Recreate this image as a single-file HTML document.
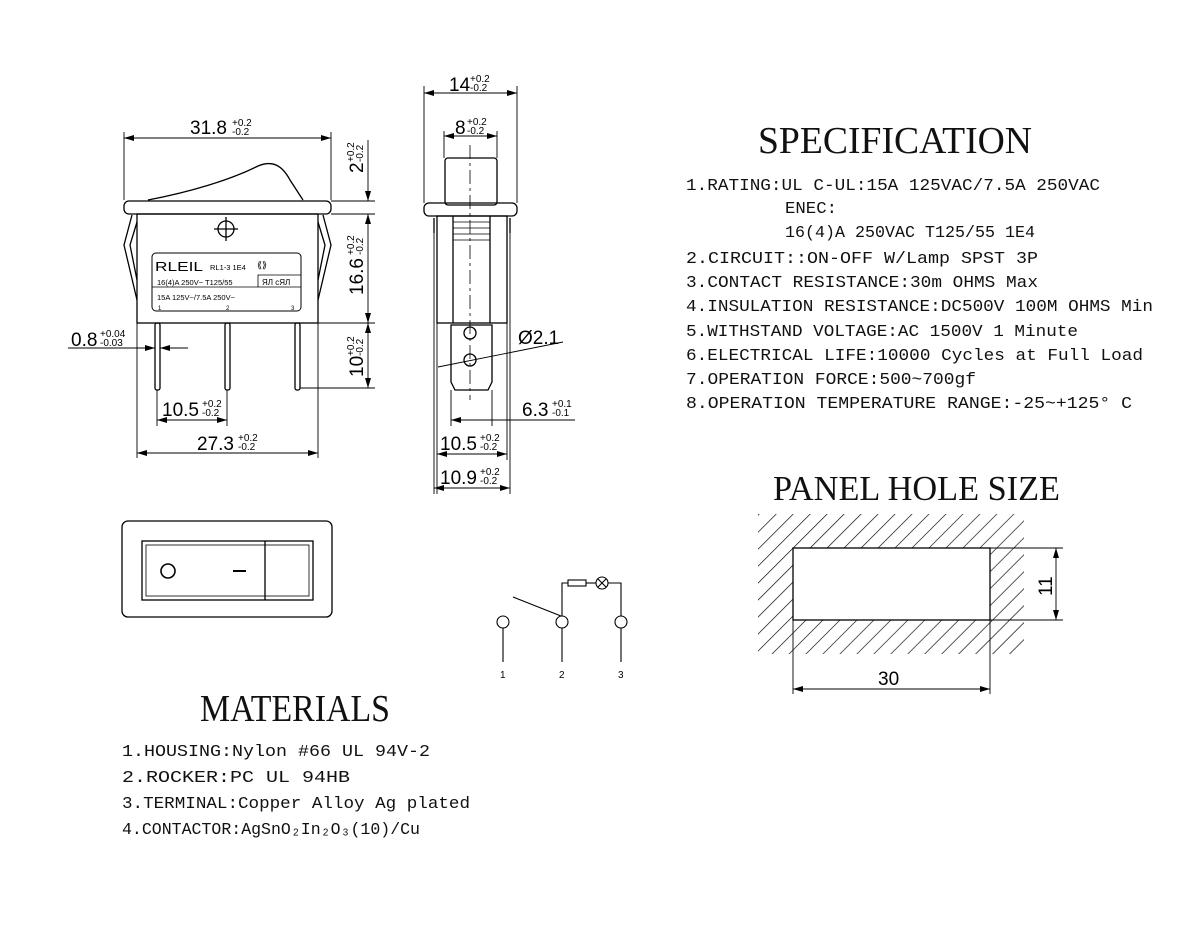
<!DOCTYPE html>
<html><head><meta charset="utf-8"><style>
html,body{margin:0;padding:0;background:#fff;}
svg{display:block;}
.d{font-family:"Liberation Sans",sans-serif;fill:#000;}
.m{font-family:"Liberation Mono",monospace;font-size:17px;fill:#111;}
.h{font-family:"Liberation Serif",serif;fill:#111;}
</style></head><body>
<svg width="1200" height="942" viewBox="0 0 1200 942" xmlns="http://www.w3.org/2000/svg">
<defs>
<marker id="a" viewBox="0 0 10 6" refX="10" refY="3" markerWidth="10" markerHeight="6" orient="auto-start-reverse" markerUnits="userSpaceOnUse"><path d="M0,0 L10,3 L0,6 z" fill="#000"/></marker>
<pattern id="hat" width="12" height="12" patternUnits="userSpaceOnUse" patternTransform="rotate(45)"><line x1="0" y1="0" x2="0" y2="12" stroke="#000" stroke-width="1.3"/></pattern>
</defs>
<g fill="none" stroke="#000" stroke-width="1.3">
<!-- FRONT VIEW -->
<path d="M148,200 C190,192 230,180 258,166 C272,160 282,165 290,180 L303,200"/>
<rect x="124" y="201" width="207" height="13" rx="5"/>
<rect x="137" y="214" width="181" height="109"/>
<path d="M132,215 L124,245 L137,300 M137,222 L130,245 L137,280"/>
<path d="M323,215 L331,245 L318,300 M318,222 L325,245 L318,280"/>
<circle cx="226" cy="229" r="8"/>
<line x1="214" y1="229" x2="238" y2="229"/><line x1="226" y1="217" x2="226" y2="241"/>
<rect x="152" y="253" width="149" height="58" rx="4" stroke-width="1"/>
<path d="M152,287 L301,287 M258,275 L301,275 L258,275 L258,287" stroke-width="0.8"/>
<rect x="155" y="323" width="5" height="67" rx="2"/>
<rect x="225" y="323" width="5" height="67" rx="2"/>
<rect x="295" y="323" width="5" height="67" rx="2"/>
<!-- dims front -->
<g stroke-width="0.9">
<line x1="124" y1="200" x2="124" y2="132"/><line x1="331" y1="200" x2="331" y2="132"/>
<line x1="124" y1="138" x2="331" y2="138" marker-start="url(#a)" marker-end="url(#a)"/>
<line x1="331" y1="201" x2="375" y2="201"/><line x1="331" y1="214" x2="375" y2="214"/>
<line x1="318" y1="323" x2="375" y2="323"/><line x1="300" y1="388" x2="375" y2="388"/>
<line x1="368" y1="140" x2="368" y2="201" marker-end="url(#a)"/>
<line x1="368" y1="214" x2="368" y2="323" marker-start="url(#a)" marker-end="url(#a)"/>
<line x1="368" y1="323" x2="368" y2="388" marker-start="url(#a)" marker-end="url(#a)"/>
<line x1="68" y1="348" x2="155" y2="348" marker-end="url(#a)"/>
<line x1="160" y1="348" x2="188" y2="348" marker-start="url(#a)"/>
<line x1="157" y1="390" x2="157" y2="426"/><line x1="227" y1="390" x2="227" y2="426"/>
<line x1="157" y1="420" x2="227" y2="420" marker-start="url(#a)" marker-end="url(#a)"/>
<line x1="137" y1="323" x2="137" y2="458"/><line x1="318" y1="323" x2="318" y2="458"/>
<line x1="137" y1="453" x2="318" y2="453" marker-start="url(#a)" marker-end="url(#a)"/>
</g>
<!-- SIDE VIEW -->
<rect x="445" y="158" width="52" height="47" rx="3"/>
<rect x="424" y="203" width="93" height="13" rx="5"/>
<rect x="437" y="216" width="70" height="107"/>
<line x1="453" y1="216" x2="453" y2="323"/><line x1="490" y1="216" x2="490" y2="323"/>
<path d="M453,222 H490 M453,228 H490 M453,234 H490 M453,240 H490" stroke-width="0.8"/>
<line x1="434" y1="218" x2="434" y2="233"/><line x1="510" y1="218" x2="510" y2="233"/>
<path d="M451,325 L451,382 L455,390 L488,390 L492,382 L492,325 Z"/>
<circle cx="470" cy="333" r="6"/><circle cx="470" cy="360" r="6"/>
<line x1="470" y1="145" x2="470" y2="400" stroke-width="0.8" stroke-dasharray="14,4,3,4"/>
<g stroke-width="0.9">
<line x1="424" y1="203" x2="424" y2="86"/><line x1="517" y1="203" x2="517" y2="86"/>
<line x1="424" y1="93" x2="517" y2="93" marker-start="url(#a)" marker-end="url(#a)"/>
<line x1="444" y1="158" x2="444" y2="131"/><line x1="497" y1="158" x2="497" y2="131"/>
<line x1="444" y1="136" x2="497" y2="136" marker-start="url(#a)" marker-end="url(#a)"/>
<line x1="438" y1="367" x2="563" y2="342"/>
<line x1="451" y1="390" x2="451" y2="426"/><line x1="492" y1="390" x2="492" y2="426"/>
<line x1="451" y1="420" x2="492" y2="420" marker-start="url(#a)"/>
<line x1="492" y1="420" x2="575" y2="420"/>
<line x1="437" y1="323" x2="437" y2="494"/><line x1="507" y1="323" x2="507" y2="460"/>
<line x1="434" y1="233" x2="434" y2="494"/><line x1="510" y1="233" x2="510" y2="494"/>
<line x1="437" y1="454" x2="507" y2="454" marker-start="url(#a)" marker-end="url(#a)"/>
<line x1="434" y1="488" x2="510" y2="488" marker-start="url(#a)" marker-end="url(#a)"/>
</g>
<!-- TOP VIEW -->
<rect x="122" y="521" width="210" height="96" rx="6"/>
<rect x="142" y="541" width="171" height="59"/>
<rect x="146" y="545" width="163" height="51" stroke-width="0.8"/>
<line x1="265" y1="541" x2="265" y2="600"/>
<circle cx="168" cy="571" r="7" stroke-width="1.6"/>
<line x1="233" y1="571" x2="246" y2="571" stroke-width="2"/>
<!-- SCHEMATIC -->
<g stroke-width="1.1">
<circle cx="503" cy="622" r="6"/><circle cx="562" cy="622" r="6"/><circle cx="621" cy="622" r="6"/>
<line x1="503" y1="628" x2="503" y2="662"/><line x1="562" y1="628" x2="562" y2="662"/><line x1="621" y1="628" x2="621" y2="662"/>
<line x1="513" y1="597" x2="561" y2="616"/>
<path d="M562,616 L562,583 L568,583"/>
<rect x="568" y="580" width="18" height="6"/>
<path d="M586,583 L596,583"/>
<circle cx="602" cy="583" r="6"/>
<path d="M598,579 L606,587 M606,579 L598,587"/>
<path d="M608,583 L621,583 L621,616"/>
</g>
<!-- PANEL -->
<path d="M758,514 H1024 V654 H758 Z M793,548 V620 H990 V548 Z" fill="url(#hat)" fill-rule="evenodd" stroke="none"/>
<rect x="793" y="548" width="197" height="72" fill="#fff"/>
<g stroke-width="0.9">
<line x1="990" y1="548" x2="1063" y2="548"/><line x1="990" y1="620" x2="1063" y2="620"/>
<line x1="1056" y1="548" x2="1056" y2="620" marker-start="url(#a)" marker-end="url(#a)"/>
<line x1="793" y1="620" x2="793" y2="694"/><line x1="990" y1="620" x2="990" y2="694"/>
<line x1="793" y1="689" x2="990" y2="689" marker-start="url(#a)" marker-end="url(#a)"/>
</g>
</g>
<!-- label text on front -->
<text class="d" x="155" y="271" font-size="13" textLength="48" lengthAdjust="spacingAndGlyphs" fill="#333">RLEIL</text>
<text class="d" x="210" y="270" font-size="7.5">RL1-3 1E4</text>
<text class="d" x="257" y="268" font-size="9">⟪⟫</text>
<text class="d" x="157" y="285" font-size="7.5">16(4)A 250V~ T125/55</text>
<text class="d" x="262" y="285" font-size="8">ЯЛ cЯЛ</text>
<text class="d" x="157" y="300" font-size="7.5">15A 125V~/7.5A 250V~</text>
<text class="d" x="158" y="310" font-size="6">1</text><text class="d" x="226" y="310" font-size="6">2</text><text class="d" x="291" y="310" font-size="6">3</text>
<!-- dim text -->
<g class="d">
<text x="190" y="134" font-size="19">31.8</text><text x="232" y="126" font-size="10">+0.2</text><text x="232" y="135" font-size="10">-0.2</text>
<g transform="translate(363,173) rotate(-90)"><text x="0" y="0" font-size="19">2</text><text x="11" y="-9" font-size="10">+0.2</text><text x="11" y="0" font-size="10">-0.2</text></g>
<g transform="translate(363,295) rotate(-90)"><text x="0" y="0" font-size="19">16.6</text><text x="40" y="-9" font-size="10">+0.2</text><text x="40" y="0" font-size="10">-0.2</text></g>
<g transform="translate(363,377) rotate(-90)"><text x="0" y="0" font-size="19">10</text><text x="21" y="-9" font-size="10">+0.2</text><text x="21" y="0" font-size="10">-0.2</text></g>
<text x="71" y="346" font-size="19">0.8</text><text x="100" y="337" font-size="10">+0.04</text><text x="100" y="346" font-size="10">-0.03</text>
<text x="162" y="416" font-size="19">10.5</text><text x="202" y="407" font-size="10">+0.2</text><text x="202" y="416" font-size="10">-0.2</text>
<text x="197" y="450" font-size="19">27.3</text><text x="238" y="441" font-size="10">+0.2</text><text x="238" y="450" font-size="10">-0.2</text>
<text x="449" y="91" font-size="19">14</text><text x="470" y="82" font-size="10">+0.2</text><text x="470" y="91" font-size="10">-0.2</text>
<text x="455" y="134" font-size="19">8</text><text x="467" y="125" font-size="10">+0.2</text><text x="467" y="134" font-size="10">-0.2</text>
<text x="518" y="344" font-size="19">Ø2.1</text>
<text x="522" y="416" font-size="19">6.3</text><text x="552" y="407" font-size="10">+0.1</text><text x="552" y="416" font-size="10">-0.1</text>
<text x="440" y="450" font-size="19">10.5</text><text x="480" y="441" font-size="10">+0.2</text><text x="480" y="450" font-size="10">-0.2</text>
<text x="440" y="484" font-size="19">10.9</text><text x="480" y="475" font-size="10">+0.2</text><text x="480" y="484" font-size="10">-0.2</text>
<text x="500" y="678" font-size="10">1</text><text x="559" y="678" font-size="10">2</text><text x="618" y="678" font-size="10">3</text>
<text x="878" y="685" font-size="19">30</text>
<g transform="translate(1052,596) rotate(-90)"><text x="0" y="0" font-size="19">11</text></g>
</g>
<!-- headings -->
<text class="h" x="758" y="153" font-size="38" textLength="274" lengthAdjust="spacingAndGlyphs">SPECIFICATION</text>
<text class="h" x="773" y="500" font-size="35" textLength="287" lengthAdjust="spacingAndGlyphs">PANEL HOLE SIZE</text>
<text class="h" x="200" y="721" font-size="38" textLength="190" lengthAdjust="spacingAndGlyphs">MATERIALS</text>
<!-- spec text -->
<text class="m" x="686" y="190" textLength="414" lengthAdjust="spacingAndGlyphs">1.RATING:UL C-UL:15A 125VAC/7.5A 250VAC</text>
<text class="m" x="785" y="213" textLength="52" lengthAdjust="spacingAndGlyphs">ENEC:</text>
<text class="m" x="785" y="237" textLength="250" lengthAdjust="spacingAndGlyphs">16(4)A 250VAC T125/55 1E4</text>
<text class="m" x="686" y="263" textLength="352" lengthAdjust="spacingAndGlyphs">2.CIRCUIT::ON-OFF W/Lamp SPST 3P</text>
<text class="m" x="686" y="287" textLength="352" lengthAdjust="spacingAndGlyphs">3.CONTACT RESISTANCE:30m OHMS Max</text>
<text class="m" x="686" y="311" textLength="467" lengthAdjust="spacingAndGlyphs">4.INSULATION RESISTANCE:DC500V 100M OHMS Min</text>
<text class="m" x="686" y="336" textLength="392" lengthAdjust="spacingAndGlyphs">5.WITHSTAND VOLTAGE:AC 1500V 1 Minute</text>
<text class="m" x="686" y="360" textLength="457" lengthAdjust="spacingAndGlyphs">6.ELECTRICAL LIFE:10000 Cycles at Full Load</text>
<text class="m" x="686" y="384" textLength="290" lengthAdjust="spacingAndGlyphs">7.OPERATION FORCE:500~700gf</text>
<text class="m" x="686" y="408" textLength="446" lengthAdjust="spacingAndGlyphs">8.OPERATION TEMPERATURE RANGE:-25~+125° C</text>
<!-- materials -->
<text class="m" x="122" y="756" textLength="308" lengthAdjust="spacingAndGlyphs">1.HOUSING:Nylon #66 UL 94V-2</text>
<text class="m" x="122" y="782" textLength="228" lengthAdjust="spacingAndGlyphs">2.ROCKER:PC UL 94HB</text>
<text class="m" x="122" y="808" textLength="348" lengthAdjust="spacingAndGlyphs">3.TERMINAL:Copper Alloy Ag plated</text>
<text class="m" x="122" y="834" textLength="298" lengthAdjust="spacingAndGlyphs">4.CONTACTOR:AgSnO₂In₂O₃(10)/Cu</text>
</svg>
</body></html>
